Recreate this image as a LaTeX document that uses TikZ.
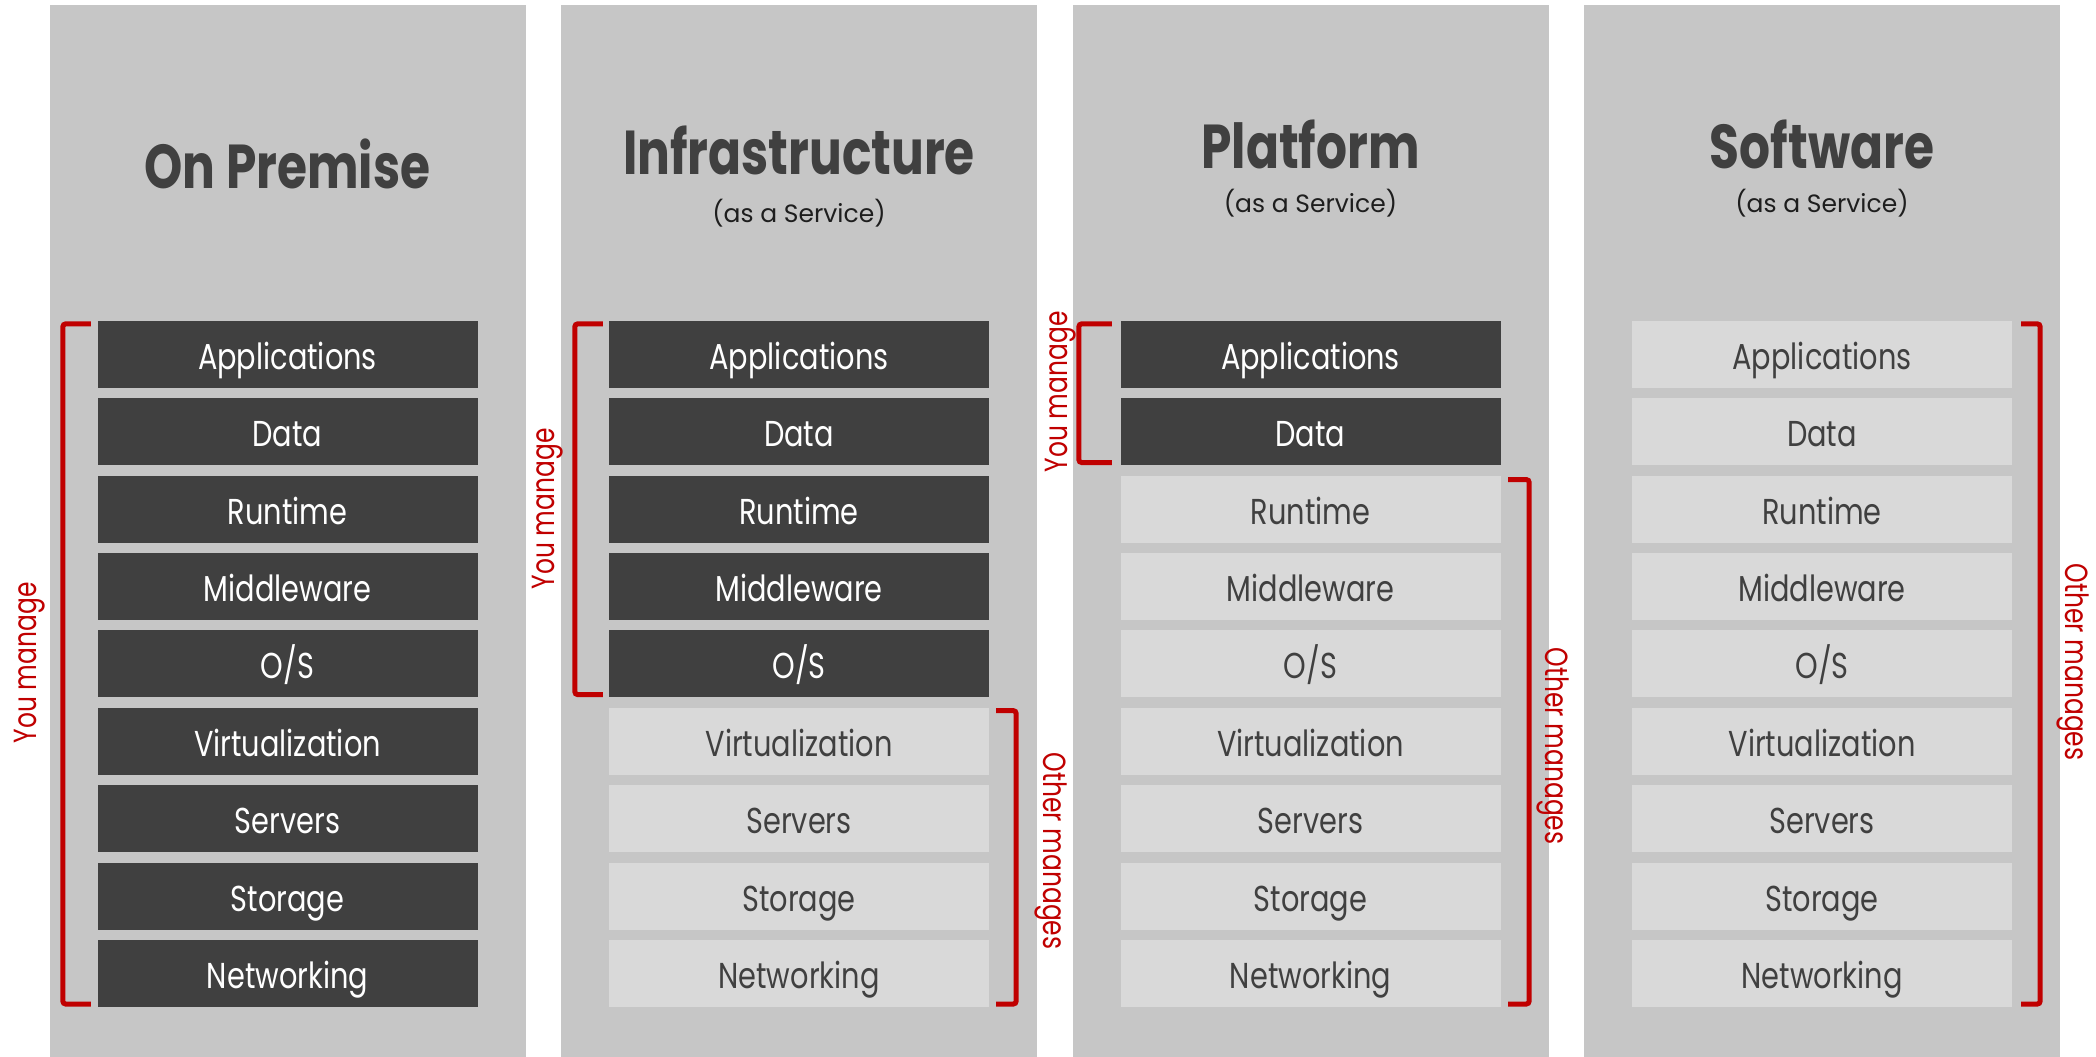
\documentclass[tikz,border=0pt]{standalone}
\usepackage{fontspec}
\setmainfont{Poppins}
\newfontfamily\titlefont[FakeStretch=0.785]{Poppins}
\newfontfamily\lblfont[FakeStretch=0.8]{Poppins}
\newfontfamily\redfont[FakeStretch=0.78]{Poppins}
\newfontfamily\subfont[FakeStretch=1.0]{Poppins}
\definecolor{panelgray}{HTML}{C6C6C6}
\definecolor{darkbox}{HTML}{404040}
\definecolor{lightbox}{HTML}{D9D9D9}
\definecolor{brred}{HTML}{C00000}
\definecolor{titlegray}{HTML}{404040}
\definecolor{subblack}{HTML}{1E1E1E}
\tikzset{
  panelbox/.style={fill=panelgray, draw=none, inner sep=0pt, minimum width=476pt, minimum height=1052pt},
  layer/.style={inner sep=0pt, minimum width=380pt, minimum height=67pt, text height=30pt, text depth=0pt,
     font=\lblfont\fontsize{36}{40}\selectfont},
  darklayer/.style={layer, fill=darkbox, text=white},
  lightlayer/.style={layer, fill=lightbox, text=darkbox},
  brk/.style={draw=brred, line width=5pt, rounded corners=3pt},
  redlbl/.style={text=brred, inner sep=0pt, anchor=base, font=\redfont\fontsize{32}{36}\selectfont},
  titletext/.style={text=titlegray, inner sep=0pt, anchor=base, font=\titlefont\bfseries\fontsize{62}{70}\selectfont},
  subtext/.style={text=subblack, inner sep=0pt, anchor=base, font=\subfont\fontsize{25}{30}\selectfont}
}
\begin{document}
\begin{tikzpicture}[x=1pt,y=-1pt]
\useasboundingbox (0,0) rectangle (2096,1057);
\fill[white] (0,0) rectangle (2096,1057);
% panels
\foreach \c in {0,1,2,3}{
  \node[panelbox, anchor=north west] (panel\c) at ({49.5+511.5*\c},5) {};
}
% layers
\def\labels{{"Applications","Data","Runtime","Middleware","O/S","Virtualization","Servers","Storage","Networking"}}
\foreach \c/\ndark in {0/9,1/5,2/2,3/0}{
  \foreach \r in {0,...,8}{
    \pgfmathsetmacro{\cx}{49.5+511.5*\c+238}
    \pgfmathsetmacro{\cy}{321+77.36*\r+33.5}
    \pgfmathparse{\labels[\r]}\let\lbl\pgfmathresult
    \ifnum\r<\ndark
      \node[darklayer] (c\c r\r) at (\cx,\cy) {\lbl};
    \else
      \node[lightlayer] (c\c r\r) at (\cx,\cy) {\lbl};
    \fi
  }
}
% titles
\node[titletext] (t0) at (287.5,188) {On Premise};
\node[titletext] (t1) at (799,174) {Infrastructure};
\node[subtext] (s1) at (799,222) {(as a Service)};
\node[titletext] (t2) at (1310.5,168) {Platform};
\node[subtext] (s2) at (1310.5,212) {(as a Service)};
\node[titletext] (t3) at (1822,168) {Software};
\node[subtext] (s3) at (1822,212) {(as a Service)};
% brackets
\draw[brk] ([shift={(-6.5,3)}]c0r0.north west) -- ++(-28,0) |- ([shift={(-6.5,-3)}]c0r8.south west);
\draw[brk] ([shift={(-6,3)}]c1r0.north west) -- ++(-28,0) |- ([shift={(-6,-3)}]c1r4.south west);
\draw[brk] ([shift={(7,3)}]c1r5.north east) -- ++(20,0) |- ([shift={(7,-3)}]c1r8.south east);
\draw[brk] ([shift={(-8.5,3)}]c2r0.north west) -- ++(-33,0) |- ([shift={(-8.5,-3)}]c2r1.south west);
\draw[brk] ([shift={(7.5,4)}]c2r2.north east) -- ++(21,0) |- ([shift={(7.5,-3)}]c2r8.south east);
\draw[brk] ([shift={(9,3)}]c3r0.north east) -- ++(19,0) |- ([shift={(9,-3)}]c3r8.south east);
% bracket labels
\node[redlbl, rotate=90] (y0) at (36,663) {You manage};
\node[redlbl, rotate=90] (y1) at (554,509) {You manage};
\node[redlbl, rotate=90] (y2) at (1067,392) {You manage};
\node[redlbl, rotate=-90] (o1) at (1043,851) {Other manages};
\node[redlbl, rotate=-90] (o2) at (1545,746) {Other manages};
\node[redlbl, rotate=-90] (o3) at (2065,662) {Other manages};
\end{tikzpicture}
\end{document}
